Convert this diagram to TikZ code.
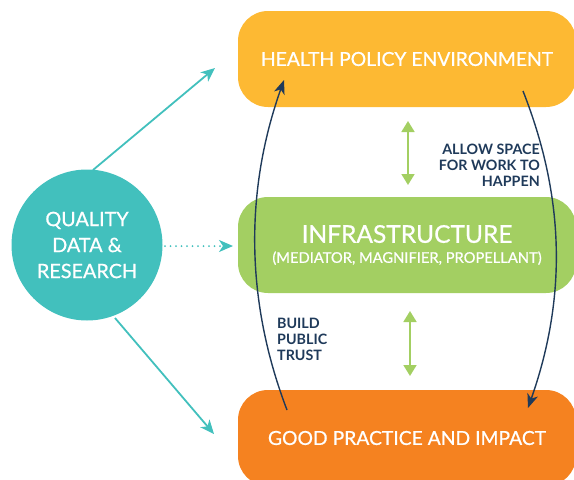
\documentclass[tikz,border=0pt]{standalone}
\usepackage{fontspec}
\setmainfont{Lato}
\newfontfamily\semib[FakeBold=0.7]{Lato}
\usetikzlibrary{arrows.meta}
\definecolor{cyellow}{HTML}{FDB933}
\definecolor{cgreen}{HTML}{A3CF62}
\definecolor{corange}{HTML}{F58220}
\definecolor{cteal}{HTML}{42C0BD}
\definecolor{cnavy}{HTML}{1F3A5A}
\tikzset{
  bigbox/.style={rounded corners=30pt, minimum width=338pt, minimum height=96pt, inner sep=0pt, text=white, align=center},
  tealarrow/.style={draw=cteal, line width=1.8pt, -{Stealth[length=14pt,width=12pt,inset=4pt]}},
  greenarrow/.style={draw=cgreen, line width=1.8pt, {Triangle[length=11pt,width=13pt]}-{Triangle[length=11pt,width=13pt]}},
  navyarc/.style={draw=cnavy, line width=1.4pt, -{Stealth[length=14pt,width=11pt,inset=4pt]}},
  lbl/.style={text=cnavy, font=\bfseries\fontsize{14.3}{16}\selectfont, inner sep=0pt}
}
\begin{document}
\begin{tikzpicture}[x=1pt,y=-1pt]
\useasboundingbox (0,0) rectangle (574,480);
\clip (0,0) rectangle (574,480);
\node[bigbox, fill=cyellow, font=\semib\fontsize{19.3}{22}\selectfont] (hpe) at (407,59) {HEALTH POLICY ENVIRONMENT};
\node[bigbox, fill=cgreen, font=\semib\fontsize{14.7}{16}\selectfont] (inf) at (407,245) {{\fontsize{24.5}{26}\selectfont INFRASTRUCTURE}\\[4pt](MEDIATOR, MAGNIFIER, PROPELLANT)};
\node[bigbox, fill=corange, font=\semib\fontsize{19.3}{22}\selectfont] (gpi) at (407,438) {GOOD PRACTICE AND IMPACT};
\node[circle, fill=cteal, minimum size=151pt, inner sep=0pt, text=white, align=center, font=\semib\fontsize{19.8}{26}\selectfont] (qdr) at (87,245) {QUALITY\\DATA \&\\RESEARCH};
% teal arrows
\coordinate (t1s) at (93,170);
\coordinate (t1e) at (215,68);
\coordinate (t2s) at (115,318);
\coordinate (t2e) at (214,434);
\coordinate (t3s) at (165,246);
\coordinate (t3e) at (233,246);
\draw[tealarrow] (t1s) -- (t1e);
\draw[tealarrow] (t2s) -- (t2e);
\draw[tealarrow, dash pattern=on 0pt off 5.5pt, line cap=round, line width=2pt] (t3s) -- (t3e);
% green arrows
\coordinate (g1a) at (408,121);
\coordinate (g1b) at (408,185);
\coordinate (g2a) at (410,311);
\coordinate (g2b) at (410,376);
\draw[greenarrow] (g1a) -- (g1b);
\draw[greenarrow] (g2a) -- (g2b);
% navy arcs
\coordinate (l1) at (287,410);
\coordinate (l2) at (284,80);
\coordinate (r1) at (523,91);
\coordinate (r2) at (528,408);
\draw[navyarc] (l1) .. controls (245,300) and (245,190) .. (l2);
\draw[navyarc] (r1) .. controls (566,200) and (566,300) .. (r2);
% labels
\node[lbl, align=right, anchor=north east] (allow) at (540,144) {ALLOW SPACE\\FOR WORK TO\\HAPPEN};
\node[lbl, align=left, anchor=north west] (build) at (277,318) {BUILD\\PUBLIC\\TRUST};
\end{tikzpicture}
\end{document}
